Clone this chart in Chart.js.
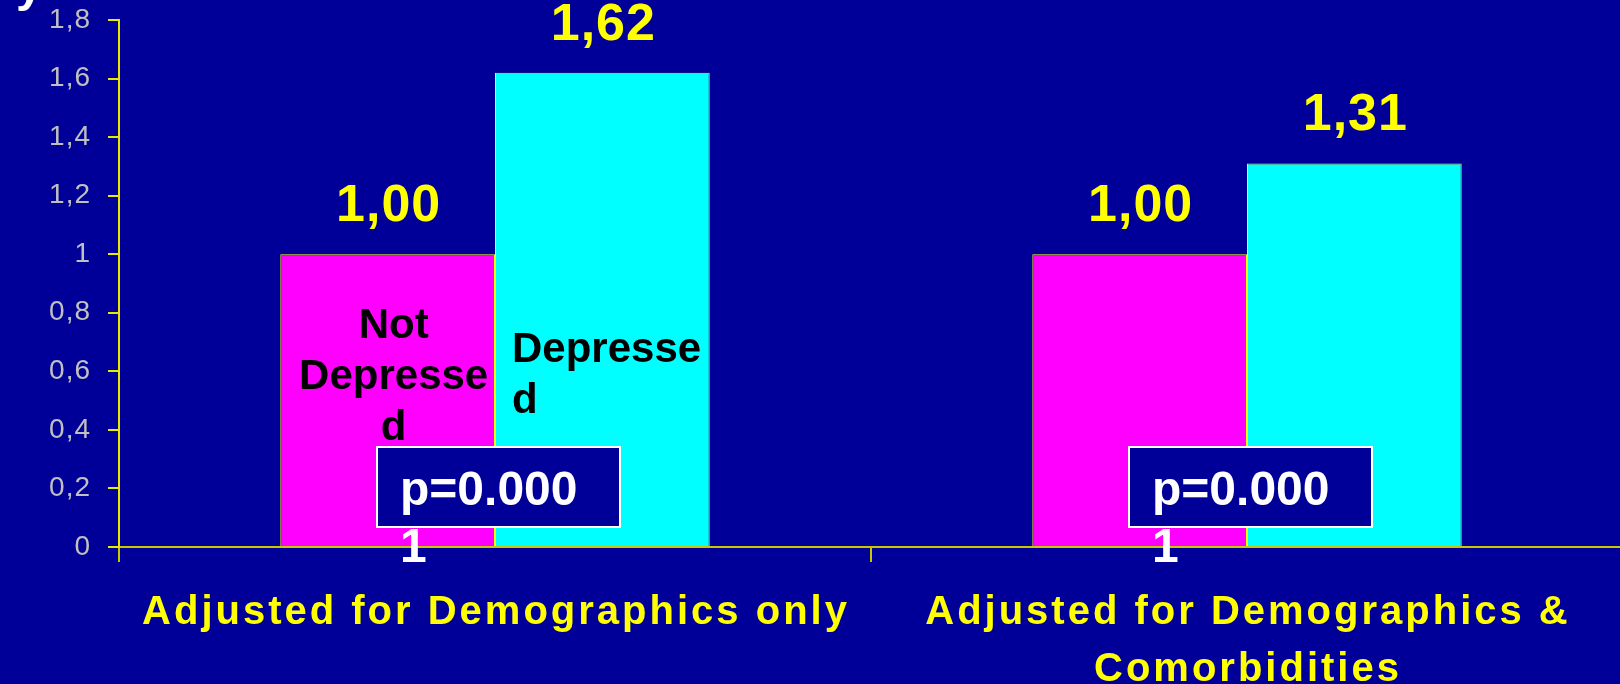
<!DOCTYPE html>
<html>
<head>
<meta charset="utf-8">
<style>
  html, body { margin: 0; padding: 0; background: #000099; overflow: hidden; }
  #wrap { width: 1620px; height: 684px; overflow: hidden; }
  canvas { display: block; }
</style>
<script src="https://cdn.jsdelivr.net/npm/chart.js@4.4.1/dist/chart.umd.min.js"></script>
</head>
<body>
<div id="wrap"><canvas id="chart" width="1623" height="684"></canvas></div>
<script>
const categories = [
  ['Adjusted for Demographics only'],
  ['Adjusted for Demographics &', 'Comorbidities'],
];
const seriesNames = ['Not Depressed', 'Depressed'];
const notDepressed = [1.00, 1.00];
const depressed = [1.62, 1.31];
const valueLabels = [['1,00', '1,00'], ['1,62', '1,31']];
const pValues = ['p=0.0001', 'p=0.0001'];
const yTickLabels = ['0', '0,2', '0,4', '0,6', '0,8', '1', '1,2', '1,4', '1,6', '1,8'];

const FONT = '"Liberation Sans", Arial, Helvetica, sans-serif';

// break text into lines that fit maxW, splitting inside a word when it has to
function wrap(ctx, text, maxW) {
  const lines = [];
  let line = '';
  for (const word of text.split(' ')) {
    const trial = line ? line + ' ' + word : word;
    if (ctx.measureText(trial).width <= maxW) { line = trial; continue; }
    if (line) lines.push(line);
    line = '';
    for (const ch of word) {
      if (line && ctx.measureText(line + ch).width > maxW) { lines.push(line); line = ''; }
      line += ch;
    }
  }
  if (line) lines.push(line);
  return lines;
}

const overlay = {
  id: 'overlay',
  beforeDraw(chart) {
    // axis numbers are set a little loose
    chart.ctx.letterSpacing = '1px';
  },
  afterDatasetsDraw(chart) {
    const ctx = chart.ctx;
    const base = chart.scales.y.getPixelForValue(0);
    ctx.save();

    // values above the bars
    ctx.font = 'bold 52px ' + FONT;
    ctx.letterSpacing = '1px';
    ctx.fillStyle = '#FFFF00';
    ctx.textAlign = 'center';
    ctx.textBaseline = 'alphabetic';
    chart.data.datasets.forEach((ds, d) => {
      chart.getDatasetMeta(d).data.forEach((bar, i) => {
        ctx.fillText(valueLabels[d][i], bar.x + 1, bar.y - 33);
      });
    });

    // series names written inside the first pair of bars
    ctx.letterSpacing = '0px';
    ctx.font = 'bold 42px ' + FONT;
    ctx.fillStyle = '#000000';
    const b0 = chart.getDatasetMeta(0).data[0];
    ctx.textAlign = 'center';
    wrap(ctx, seriesNames[0], 200).forEach((t, k) => {
      ctx.fillText(t, b0.x + 6, base - 209 + k * 51);
    });
    const b1 = chart.getDatasetMeta(1).data[0];
    ctx.textAlign = 'left';
    wrap(ctx, seriesNames[1], 200).forEach((t, k) => {
      ctx.fillText(t, b1.x - b1.width / 2 + 17, base - 185 + k * 51);
    });
    ctx.restore();
  },
  afterDraw(chart) {
    const ctx = chart.ctx;
    const x = chart.scales.x;
    ctx.save();
    ctx.textBaseline = 'alphabetic';

    // category names under the axis
    ctx.font = 'bold 40px ' + FONT;
    ctx.letterSpacing = '3px';
    ctx.fillStyle = '#FFFF00';
    ctx.textAlign = 'center';
    categories.forEach((lines, i) => {
      const cx = x.getPixelForTick(i) + 1;
      lines.forEach((t, k) => ctx.fillText(t, cx, 624 + k * 57));
    });

    // p-value boxes
    ctx.letterSpacing = '0px';
    pValues.forEach((p, i) => {
      const left = x.getPixelForTick(i) - 118;
      const top = 447;
      ctx.fillStyle = '#000099';
      ctx.fillRect(left, top, 243, 80);
      ctx.strokeStyle = '#FFFFFF';
      ctx.lineWidth = 2;
      ctx.strokeRect(left, top, 243, 80);
      ctx.font = 'bold 48px ' + FONT;
      ctx.fillStyle = '#FFFFFF';
      ctx.textAlign = 'left';
      wrap(ctx, p, 197).forEach((t, k) => ctx.fillText(t, left + 23, top + 58 + k * 57));
    });

    // tail of the slide title above the plot
    ctx.font = 'bold 48px ' + FONT;
    ctx.fillStyle = '#FFFFFF';
    ctx.fillText('y', 16, 1);
    ctx.restore();
  }
};

new Chart(document.getElementById('chart'), {
  type: 'bar',
  data: {
    labels: categories,
    datasets: [
      { label: seriesNames[0], data: notDepressed, backgroundColor: '#FF00FF', borderColor: '#FFFF00', borderWidth: 1 },
      { label: seriesNames[1], data: depressed, backgroundColor: '#00FFFF', borderColor: '#FFFF00', borderWidth: 1 },
    ]
  },
  options: {
    responsive: false,
    animation: false,
    layout: { padding: { top: 20, left: 0, right: 0, bottom: 0 } },
    datasets: { bar: { categoryPercentage: 0.571, barPercentage: 1 } },
    plugins: { legend: { display: false }, tooltip: { enabled: false } },
    scales: {
      x: {
        z: 1,
        ticks: { display: false },
        grid: { display: true, drawOnChartArea: false, offset: true, tickLength: 15, color: '#C8C800', lineWidth: 2 },
        border: { display: true, color: '#C8C800', width: 2 },
        afterFit: (s) => { s.height = 137; s.paddingLeft = 0; s.paddingRight = 0; }
      },
      y: {
        min: 0,
        max: 1.8,
        ticks: {
          stepSize: 0.2,
          color: '#C0C0C0',
          padding: 17,
          font: { family: FONT, size: 28 },
          callback: (v, i) => yTickLabels[i]
        },
        grid: { display: true, drawOnChartArea: false, tickLength: 11, color: '#E8E800', lineWidth: 2 },
        border: { display: true, color: '#E8E800', width: 2 },
        afterFit: (s) => { s.width = 119; s.paddingTop = 0; s.paddingBottom = 0; }
      }
    }
  },
  plugins: [overlay]
});
</script>
</body>
</html>
